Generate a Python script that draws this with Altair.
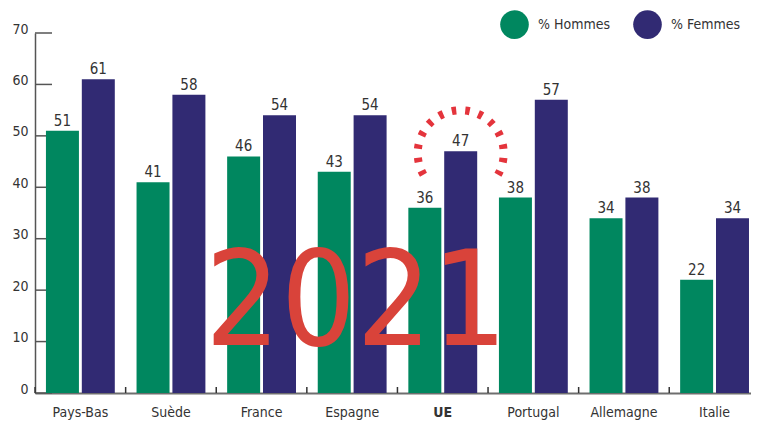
import altair as alt
import pandas as pd

countries = ["Pays-Bas", "Suède", "France", "Espagne", "UE", "Portugal", "Allemagne", "Italie"]
hommes = [51, 41, 46, 43, 36, 38, 34, 22]
femmes = [61, 58, 54, 54, 47, 57, 38, 34]
series = ["% Hommes", "% Femmes"]
colors = ["#00875F", "#312A73"]
y_ticks = [0, 10, 20, 30, 40, 50, 60, 70]
year_label = "2021"
highlight = "UE"

FONT = "DejaVu Sans Condensed, sans-serif"
W, H = 716, 360

rows = []
for c, h, f in zip(countries, hommes, femmes):
    rows.append({"pays": c, "serie": series[0], "valeur": h})
    rows.append({"pays": c, "serie": series[1], "valeur": f})
df = pd.DataFrame(rows)

xscale = alt.Scale(paddingInner=0.24, paddingOuter=0.0715, align=0.845)
yscale = alt.Scale(domain=[0, 70], nice=False)
xoff = alt.XOffset("serie:N", sort=series, scale=alt.Scale(paddingInner=0.08, paddingOuter=0))

# inward y ticks
ytick_df = pd.DataFrame({"valeur": y_ticks})
yticks = alt.Chart(ytick_df).mark_rule(color="#555555", strokeWidth=1.5).encode(
    y=alt.Y("valeur:Q", scale=yscale, axis=None),
    x=alt.value(0), x2=alt.value(17),
)

# inward x ticks at group boundaries
xtick_df = pd.DataFrame({"pays": countries})
xticks = alt.Chart(xtick_df).mark_rule(color="#333333", strokeWidth=1.5, xOffset=-10.9).encode(
    x=alt.X("pays:N", sort=countries, scale=xscale, bandPosition=0, axis=None),
    y=alt.value(H), y2=alt.value(H - 6),
)

bars = alt.Chart(df).mark_bar().encode(
    x=alt.X("pays:N", sort=countries, scale=xscale, title=None,
            axis=alt.Axis(orient="bottom", labelAngle=0, ticks=False, tickSize=0,
                          domainColor="#6e6e6e", domainWidth=2, labelFont=FONT,
                          labelFontSize=14, labelColor="#333333", labelPadding=12,
                          labelFontWeight={"condition": {"test": "datum.value === 'UE'", "value": "bold"},
                                           "value": "normal"},
                          grid=False)),
    xOffset=xoff,
    y=alt.Y("valeur:Q", scale=yscale, title=None,
            axis=alt.Axis(orient="left", values=y_ticks, ticks=False, tickSize=0, grid=False,
                          domainColor="#555555", domainWidth=1.5, labelFont=FONT,
                          labelFontSize=14, labelColor="#333333", labelPadding=7,
                          labelBaseline="alphabetic")),
    color=alt.Color("serie:N", sort=series, scale=alt.Scale(domain=series, range=colors),
                    legend=alt.Legend(title=None, orient="none", legendX=465, legendY=-23,
                                      direction="horizontal", symbolType="circle",
                                      symbolSize=820, symbolStrokeWidth=0, labelFont=FONT,
                                      labelFontSize=14, labelColor="#333333", labelOffset=9,
                                      columnPadding=22, padding=0)),
)

labels = alt.Chart(df).mark_text(baseline="alphabetic", dy=-5, font=FONT, fontSize=15,
                                 color="#333333").encode(
    x=alt.X("pays:N", sort=countries, scale=xscale, axis=None),
    xOffset=xoff,
    y=alt.Y("valeur:Q", scale=yscale, axis=None),
    text="valeur:Q",
)

year_df = pd.DataFrame({"pays": ["Espagne"], "valeur": [10], "txt": [year_label]})
year = alt.Chart(year_df).mark_text(baseline="alphabetic", align="center", dx=4, dy=3,
                                    font=FONT, fontSize=132, color="#D9433A").encode(
    x=alt.X("pays:N", sort=countries, scale=xscale, axis=None),
    y=alt.Y("valeur:Q", scale=yscale, axis=None),
    text="txt:N",
)

arc_df = pd.DataFrame({"pays": [highlight], "serie": [series[1]], "valeur": [47]})
arc = alt.Chart(arc_df).mark_point(
    shape="M -0.866 0.5 A 1 1 0 1 1 0.866 0.5", size=7396, filled=False,
    stroke="#E4343C", strokeWidth=8, strokeDash=[4.5, 9], opacity=1, yOffset=2).encode(
    x=alt.X("pays:N", sort=countries, scale=xscale, axis=None),
    xOffset=xoff,
    y=alt.Y("valeur:Q", scale=yscale, axis=None),
)

chart = alt.layer(yticks, xticks, bars, labels, year, arc).resolve_axis(
    x="independent", y="independent"
).properties(
    width=W, height=H,
    autosize=alt.AutoSizeParams(type="none"),
    padding={"left": 27, "top": 25, "right": 0, "bottom": 28},
).configure(font=FONT).configure_view(stroke="transparent", strokeWidth=0)

chart.save("out.html", embed_options={"renderer": "svg", "actions": False})
